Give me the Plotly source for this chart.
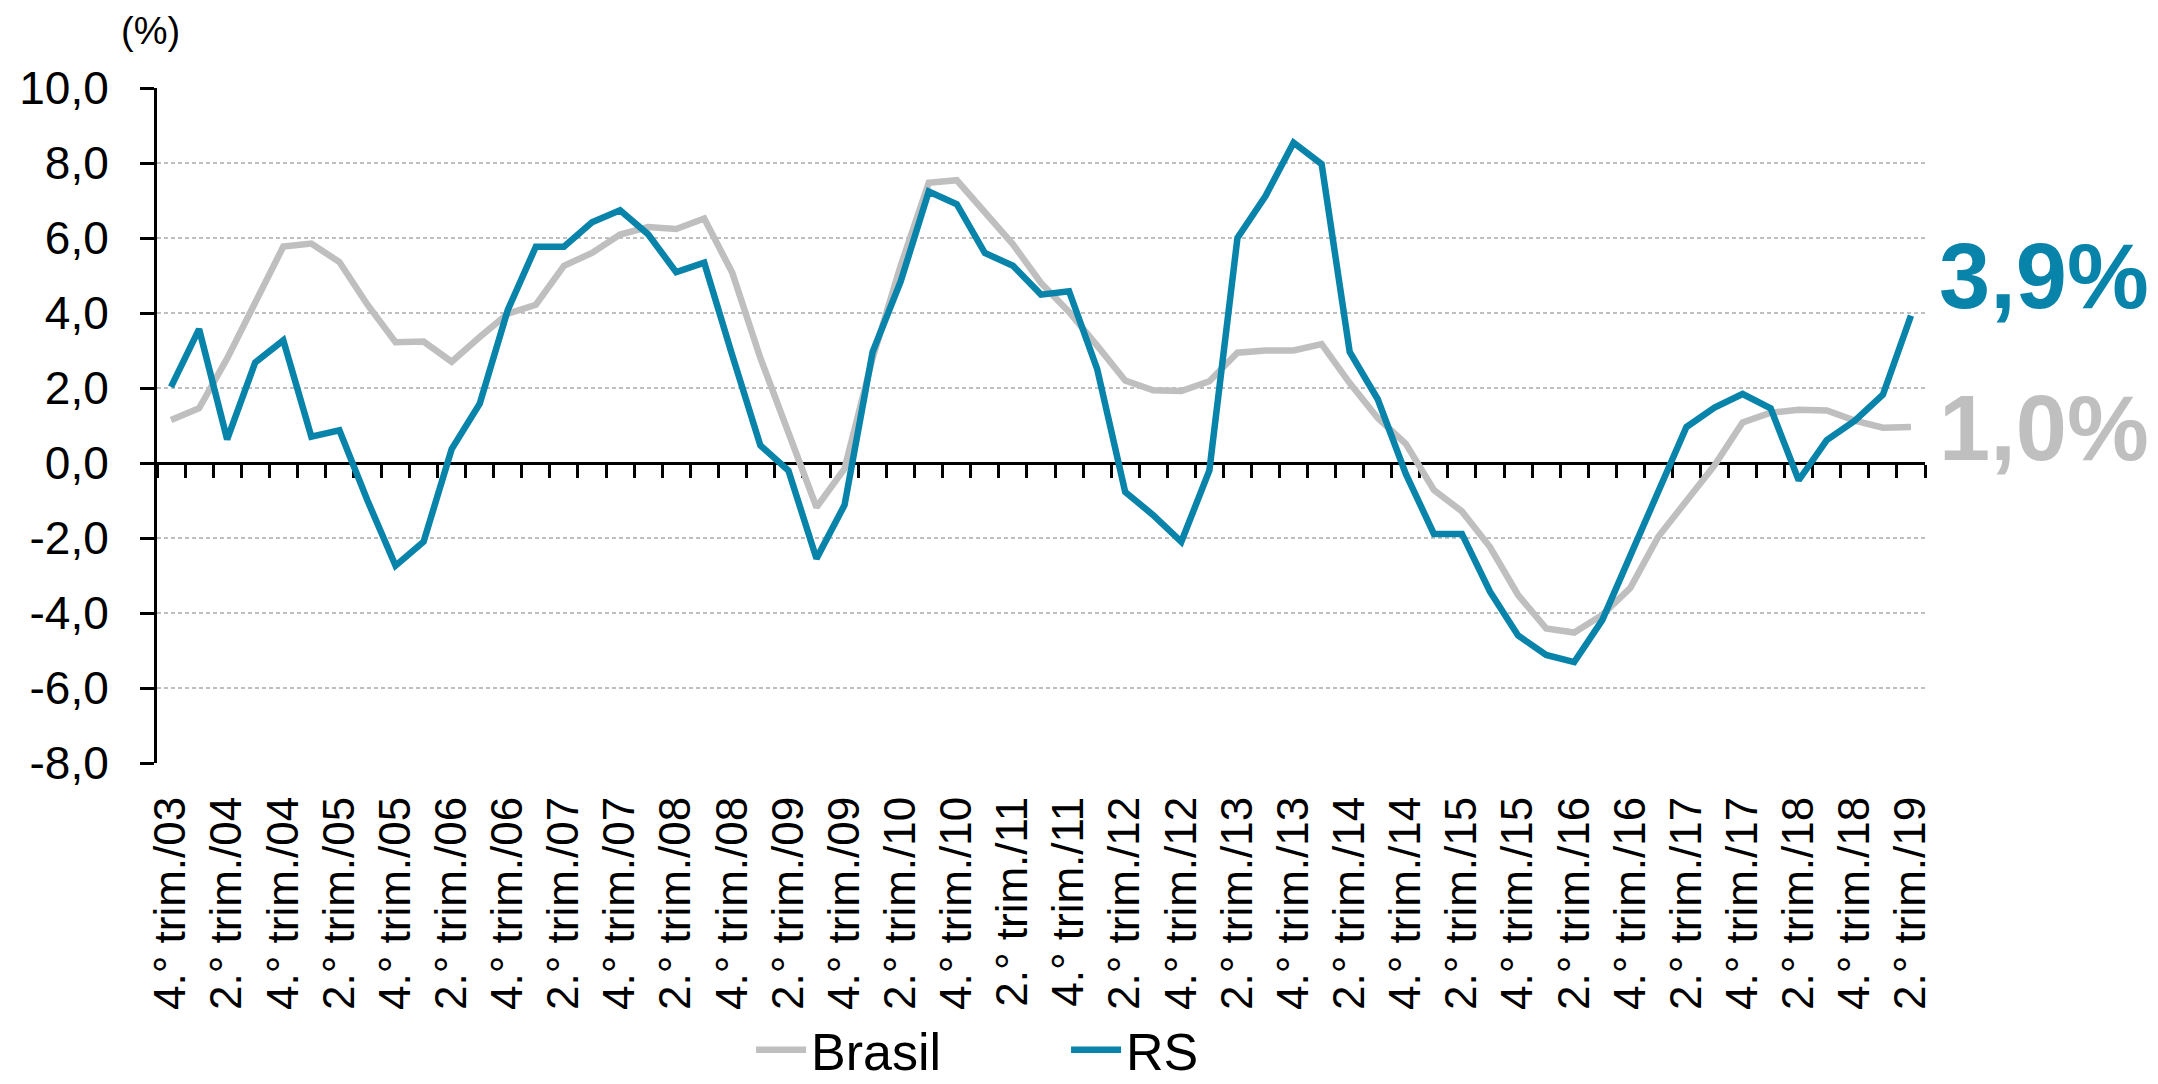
import plotly.graph_objects as go

# ---------------- data ----------------
categories = [
    "4.° trim./03",
    "1.° trim./04", "2.° trim./04", "3.° trim./04", "4.° trim./04",
    "1.° trim./05", "2.° trim./05", "3.° trim./05", "4.° trim./05",
    "1.° trim./06", "2.° trim./06", "3.° trim./06", "4.° trim./06",
    "1.° trim./07", "2.° trim./07", "3.° trim./07", "4.° trim./07",
    "1.° trim./08", "2.° trim./08", "3.° trim./08", "4.° trim./08",
    "1.° trim./09", "2.° trim./09", "3.° trim./09", "4.° trim./09",
    "1.° trim./10", "2.° trim./10", "3.° trim./10", "4.° trim./10",
    "1.° trim./11", "2.° trim./11", "3.° trim./11", "4.° trim./11",
    "1.° trim./12", "2.° trim./12", "3.° trim./12", "4.° trim./12",
    "1.° trim./13", "2.° trim./13", "3.° trim./13", "4.° trim./13",
    "1.° trim./14", "2.° trim./14", "3.° trim./14", "4.° trim./14",
    "1.° trim./15", "2.° trim./15", "3.° trim./15", "4.° trim./15",
    "1.° trim./16", "2.° trim./16", "3.° trim./16", "4.° trim./16",
    "1.° trim./17", "2.° trim./17", "3.° trim./17", "4.° trim./17",
    "1.° trim./18", "2.° trim./18", "3.° trim./18", "4.° trim./18",
    "1.° trim./19", "2.° trim./19",
]

brasil = [1.15, 1.46, 2.79, 4.31, 5.77, 5.85, 5.36, 4.22, 3.22, 3.24,
          2.70, 3.36, 3.98, 4.22, 5.26, 5.60, 6.09, 6.29, 6.24, 6.52,
          5.07, 2.80, 0.80, -1.18, -0.15, 2.80, 5.26, 7.47, 7.54, 6.70,
          5.83, 4.80, 4.03, 3.13, 2.20, 1.94, 1.92, 2.18, 2.94, 3.00,
          3.00, 3.17, 2.13, 1.20, 0.51, -0.72, -1.29, -2.24, -3.52, -4.41,
          -4.52, -4.05, -3.33, -1.96, -1.01, -0.06, 1.08, 1.34, 1.42, 1.40,
          1.13, 0.94, 0.96]

rs = [2.03, 3.57, 0.63, 2.68, 3.27, 0.70, 0.87, -1.00, -2.74, -2.10,
      0.37, 1.58, 4.08, 5.77, 5.77, 6.42, 6.74, 6.10, 5.09, 5.34,
      2.87, 0.47, -0.20, -2.55, -1.12, 2.96, 4.84, 7.24, 6.90, 5.60,
      5.26, 4.49, 4.58, 2.51, -0.77, -1.39, -2.10, -0.20, 6.00, 7.12,
      8.54, 7.97, 2.96, 1.70, -0.29, -1.89, -1.89, -3.43, -4.60, -5.12,
      -5.31, -4.19, -2.47, -0.77, 0.96, 1.48, 1.84, 1.46, -0.46, 0.61,
      1.13, 1.82, 3.93]

x_tick_labels = categories[::2]

y_tick_vals = [-8, -6, -4, -2, 0, 2, 4, 6, 8, 10]
y_tick_text = ["-8,0", "-6,0", "-4,0", "-2,0", "0,0", "2,0", "4,0", "6,0", "8,0", "10,0"]

end_labels = ["3,9%", "1,0%"]

# ---------------- styling ----------------
BLUE = "#0883A9"
GRAY = "#BFBFBF"
FONT = "Liberation Sans, Arial, sans-serif"

fig = go.Figure()
fig.add_trace(go.Scatter(x=categories, y=brasil, name="Brasil", mode="lines",
                         line=dict(color=GRAY, width=6.5)))
fig.add_trace(go.Scatter(x=categories, y=rs, name="RS", mode="lines",
                         line=dict(color=BLUE, width=6.5)))
# helper (invisible) trace so the zero-line axis with boundary ticks is drawn
fig.add_trace(go.Scatter(x=[None], y=[None], xaxis="x2", showlegend=False,
                         hoverinfo="skip"))

n = len(categories)
fig.update_layout(
    width=2158, height=1084,
    margin=dict(l=149, r=241, t=80, b=329, autoexpand=False),
    paper_bgcolor="white", plot_bgcolor="white",
    font=dict(family=FONT, color="black"),
    xaxis=dict(
        type="category", range=[-0.5, n - 0.5],
        tickmode="array", tickvals=x_tick_labels, ticktext=x_tick_labels,
        tickangle=-90, ticks="", showgrid=False, showline=False, zeroline=False,
        tickfont=dict(size=44, family=FONT, color="black"),
        ticklabelstandoff=24, automargin=False,
    ),
    xaxis2=dict(
        overlaying="x", anchor="free", position=8 / 18,
        range=[-0.5, n - 0.5], tickmode="linear", tick0=-0.5, dtick=1,
        ticks="outside", ticklen=13, tickwidth=3, tickcolor="black",
        showticklabels=False, showline=True, linecolor="black", linewidth=3,
        showgrid=False, zeroline=False, layer="below traces",
    ),
    yaxis=dict(
        range=[-8, 10], tickmode="array", tickvals=y_tick_vals, ticktext=y_tick_text,
        ticks="outside", ticklen=14, tickwidth=3, tickcolor="black",
        showline=True, linecolor="black", linewidth=3,
        showgrid=True, gridcolor="#BFBFBF", gridwidth=1.6, griddash="4px,3px",
        zeroline=False, layer="below traces", automargin=False,
        tickfont=dict(size=46, family=FONT, color="black"),
        ticklabelstandoff=22,
    ),
    legend=dict(
        orientation="h", x=0.336, xanchor="left", y=-0.425, yanchor="middle",
        font=dict(size=52, family=FONT, color="black"),
        itemwidth=50, entrywidth=250, bgcolor="rgba(0,0,0,0)",
    ),
    showlegend=True,
)

fig.add_annotation(text="(%)", xref="paper", yref="paper", x=-0.0034, y=1.084,
                   xanchor="center", yanchor="middle", showarrow=False,
                   font=dict(size=38, family=FONT, color="black"))
fig.add_annotation(text=f"<b>{end_labels[0]}</b>", xref="paper", yref="y",
                   x=1.007, y=4.98, xanchor="left", yanchor="middle", showarrow=False,
                   font=dict(size=92, family=FONT, color=BLUE))
fig.add_annotation(text=f"<b>{end_labels[1]}</b>", xref="paper", yref="y",
                   x=1.007, y=0.94, xanchor="left", yanchor="middle", showarrow=False,
                   font=dict(size=92, family=FONT, color=GRAY))

fig.write_html("out.html")
